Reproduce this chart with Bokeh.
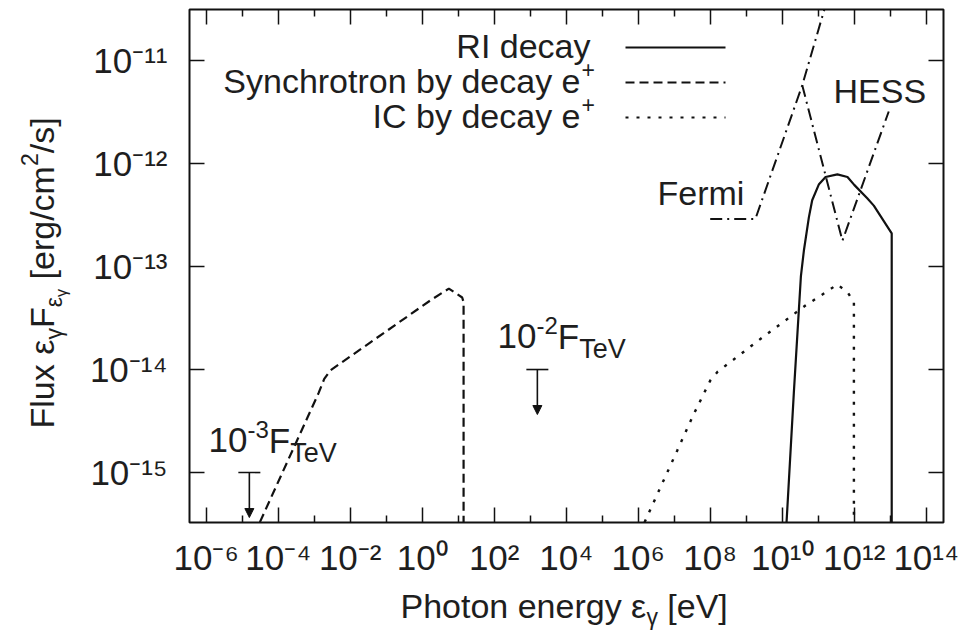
import math
from bokeh.plotting import figure
from bokeh.models import (Range1d, FixedTicker, LogAxis, CustomJSTickFormatter,
                          Label, Arrow, NormalHead)
from bokeh.embed import file_html
from bokeh.resources import INLINE

# ---------------- data ----------------
# RI decay (solid)
ri_E = [1.32e10, 2.1e10, 3.3e10, 4.0e10, 5.5e10, 6.8e10, 1.05e11, 1.6e11, 3.4e11,
        6.5e11, 1.0e12, 2.3e12, 3.5e12, 1.1e13, 1.1e13]
ri_F = [3.3e-16, 5.9e-15, 8.0e-14, 1.43e-13, 3.0e-13, 4.4e-13, 6.3e-13, 7.4e-13, 7.85e-13,
        7.4e-13, 6.2e-13, 4.6e-13, 3.9e-13, 2.1e-13, 3.3e-16]

# Synchrotron by decay e+ (dashed)
syn_E = [3.1e-5, 1.32e-3, 1.9e-3, 2.8e-3, 1.7, 5.5, 12.9, 14.1, 14.1]
syn_F = [3.3e-16, 5.9e-15, 8.1e-15, 9.8e-15, 4.7e-14, 6.1e-14, 5.0e-14, 4.5e-14, 3.3e-16]

# IC by decay e+ (dotted)
ic_E = [1.5e6, 1.2e7, 3.5e7, 1.0e8, 1.6e8, 1.07e9, 3.1e9, 1.23e10, 4.5e10,
        1.78e11, 3.4e11, 6.6e11, 9.8e11, 9.8e11]
ic_F = [3.3e-16, 1.62e-15, 3.7e-15, 7.8e-15, 9.5e-15, 1.58e-14, 2.1e-14, 3.0e-14,
        4.2e-14, 5.75e-14, 6.7e-14, 5.6e-14, 4.5e-14, 3.3e-16]

# Fermi sensitivity (dash-dot)
fermi_E = [1.0e8, 1.8e9, 3.6e10, 1.48e11]
fermi_F = [2.9e-13, 2.9e-13, 5.75e-12, 3.13e-11]

# HESS sensitivity (dash-dot)
hess_E = [3.6e10, 4.7e11, 9.1e12]
hess_F = [5.75e-12, 1.78e-13, 3.2e-12]

# Upper limits (10^-3 F_TeV, 10^-2 F_TeV)
ul_E = [1.58e-5, 1.58e3]
ul_F = [1.0e-15, 1.0e-14]
ul_exp = ["-3", "-2"]

# Tick labels
x_tick_exps = [-6, -4, -2, 0, 2, 4, 6, 8, 10, 12, 14]
x_tick_labels = ["10⁻⁶", "10⁻⁴", "10⁻²", "10⁰", "10²", "10⁴", "10⁶", "10⁸",
                 "10¹⁰", "10¹²", "10¹⁴"]
x_minor_exps = [-5, -3, -1, 1, 3, 5, 7, 9, 11, 13]
y_tick_exps = [-15, -14, -13, -12, -11]
y_tick_labels = ["10⁻¹⁵", "10⁻¹⁴", "10⁻¹³", "10⁻¹²", "10⁻¹¹"]

legend_labels = ["RI decay", "Synchrotron by decay e", "IC by decay e"]

# ---------------- layout ----------------
W, H = 961, 634
FL, FT, FW, FH = 189, 9, 754, 513          # plot box inside the canvas (px)
XL0, XL1 = -6.464, 14.48                   # log10 of the plot box x limits
YL0, YL1 = -15.485, -10.505                # log10 of the plot box y limits
SX = (XL1 - XL0) / FW
SY = (YL1 - YL0) / FH
FONT = "Liberation Sans"
TXT = "#1e1e1e"
INK = "#111111"
BFIX = 0.3465   # baseline correction (em) for Label text placement

# The Bokeh frame covers the whole canvas; the axes sit at fixed locations on the box edges.
p = figure(width=W, height=H, x_axis_type="log", y_axis_type="log",
           x_axis_location=None, y_axis_location=None,
           x_range=Range1d(10 ** (XL0 - FL * SX), 10 ** (XL1 + (W - FL - FW) * SX)),
           y_range=Range1d(10 ** (YL0 - (H - FT - FH) * SY), 10 ** (YL1 + FT * SY)),
           output_backend="svg", toolbar_location=None,
           min_border_left=0, min_border_right=0, min_border_top=0, min_border_bottom=0)
p.background_fill_color = "white"
p.border_fill_color = "white"
p.outline_line_color = None
p.grid.visible = False


def px2x(px):
    return 10 ** (XL0 + (px - FL) * SX)


def py2y(py):
    return 10 ** (YL1 - (py - FT) * SY)


xt = FixedTicker(ticks=[10.0 ** e for e in x_tick_exps], minor_ticks=[10.0 ** e for e in x_minor_exps])
yt = FixedTicker(ticks=[10.0 ** e for e in y_tick_exps], minor_ticks=[])

fmt_code = ("const e = Math.round(Math.log10(tick)); const i = exps.indexOf(e);"
            "return i >= 0 ? labels[i] : '';")
xfmt = CustomJSTickFormatter(args=dict(exps=x_tick_exps, labels=x_tick_labels), code=fmt_code)
yfmt = CustomJSTickFormatter(args=dict(exps=y_tick_exps, labels=y_tick_labels), code=fmt_code)
blank = CustomJSTickFormatter(code="return '';")


def make_axis(ticker, fmt, loc, standoff):
    ax = LogAxis(ticker=ticker, formatter=fmt, fixed_location=loc)
    ax.axis_line_color = None
    ax.major_tick_line_color = INK
    ax.minor_tick_line_color = INK
    ax.major_tick_line_width = 1.5
    ax.minor_tick_line_width = 1.5
    ax.major_tick_in = 15
    ax.major_tick_out = 0
    ax.minor_tick_in = 7
    ax.minor_tick_out = 0
    ax.major_label_text_font = FONT
    ax.major_label_text_color = TXT
    ax.major_label_text_font_size = "35px"
    ax.major_label_standoff = standoff
    return ax


p.add_layout(make_axis(xt, xfmt, 10 ** YL0, 15), "below")
p.add_layout(make_axis(yt, yfmt, 10 ** XL0, 22), "left")
p.add_layout(make_axis(xt, blank, 10 ** YL1, 0), "above")
p.add_layout(make_axis(yt, blank, 10 ** XL1, 0), "right")

# plot box
p.quad(left=[10 ** XL0], right=[10 ** XL1], bottom=[10 ** YL0], top=[10 ** YL1],
       fill_color=None, line_color=INK, line_width=2)

# ---------------- curves ----------------
DASH = "9 5"
DOT = "3 8"
DASHDOT = "12 5 2 5"
p.line(ri_E, ri_F, line_color=INK, line_width=2.2)
p.line(syn_E, syn_F, line_color=INK, line_width=2.2, line_dash=DASH)
p.line(ic_E, ic_F, line_color=INK, line_width=2.4, line_dash=DOT)
p.line(fermi_E, fermi_F, line_color=INK, line_width=2, line_dash=DASHDOT)
p.line(hess_E, hess_F, line_color=INK, line_width=2, line_dash=DASHDOT)

# upper limits: bar + arrow
half = 10 ** (11 * SX)
drop = 10 ** (-45 * SY)
p.segment(x0=[e / half for e in ul_E], x1=[e * half for e in ul_E], y0=ul_F, y1=ul_F,
          line_color=INK, line_width=1.6)
for e, f in zip(ul_E, ul_F):
    p.add_layout(Arrow(end=NormalHead(size=9, fill_color=INK, line_color=INK),
                       x_start=e, y_start=f, x_end=e, y_end=f * drop,
                       line_color=INK, line_width=1.6))

# ---------------- rich text helper ----------------
CW = {' ': .278, '0': .556, '1': .556, '2': .556, '3': .556, '-': .333, 'F': .611, 'l': .222,
      'u': .556, 'x': .5, '[': .278, ']': .278, 'e': .556, 'r': .333, 'g': .556, '/': .278,
      'c': .5, 'm': .833, 's': .5, 'P': .667, 'h': .556, 'o': .556, 't': .278, 'n': .556,
      'y': .5, 'V': .667, 'T': .611, 'ε': .45, 'γ': .5, '+': .584}


def tw(s, size):
    return sum(CW.get(c, .556) for c in s) * size


def put(text, px, py, size, align="left", angle=0.0):
    """Place a text whose alphabetic baseline starts at canvas pixel (px, py)."""
    if angle == 0.0:
        py = py - BFIX * size
    else:
        px = px - BFIX * size
    p.add_layout(Label(x=px2x(px), y=py2y(py), text=text, angle=angle,
                       text_font=FONT, text_font_size=f"{size}px", text_color=TXT,
                       text_align=align, text_baseline="alphabetic"))


def rich(parts, x0, y0, angle=0.0):
    adv = 0.0
    for text, size, rise in parts:
        lead = len(text) - len(text.lstrip(" "))
        adv += tw(" " * lead, size)
        body = text.strip(" ")
        if angle == 0.0:
            put(body, x0 + adv, y0 - rise, size)
        else:
            put(body, x0 - rise, y0 - adv, size, angle=angle)
        adv += tw(text.lstrip(" "), size)


# axis titles
rich([("Flux ", 34, 0), ("ε", 34, 0), ("γ", 23, -8), ("F", 34, 0), ("ε", 23, -8),
      ("γ", 16, -14), (" [erg/cm", 34, 0), ("2", 23, 16), ("/s]", 34, 0)],
     53, 428, angle=math.pi / 2)
rich([("Photon energy ε", 34, 0), ("γ", 23, -7), (" [eV]", 34, 0)], 400, 617)

# upper-limit labels
rich([("10", 35, 0), (ul_exp[0], 24, 15), ("F", 35, 0), ("TeV", 27, -10)], 208, 452)
rich([("10", 35, 0), (ul_exp[1], 24, 15), ("F", 35, 0), ("TeV", 27, -10)], 497, 348)

# instrument labels
put("Fermi", 657, 204, 34)
put("HESS", 833, 102, 34)

# legend (text on the left, sample on the right)
rows = [(57, 47, None, 590), (92, 82, DASH, 580), (127, 117, DOT, 580)]
for (by, ly, dash, rx), lab in zip(rows, legend_labels):
    put(lab, rx, by, 34, align="right")
    if dash is not None:
        put("+", rx + 1, by - 15, 23)
    kw = dict(line_color=INK, line_width=2.2)
    if dash is not None:
        kw["line_dash"] = dash
    p.line([px2x(625), px2x(725)], [py2y(ly), py2y(ly)], **kw)

open("out.html", "w").write(file_html(p, INLINE))
